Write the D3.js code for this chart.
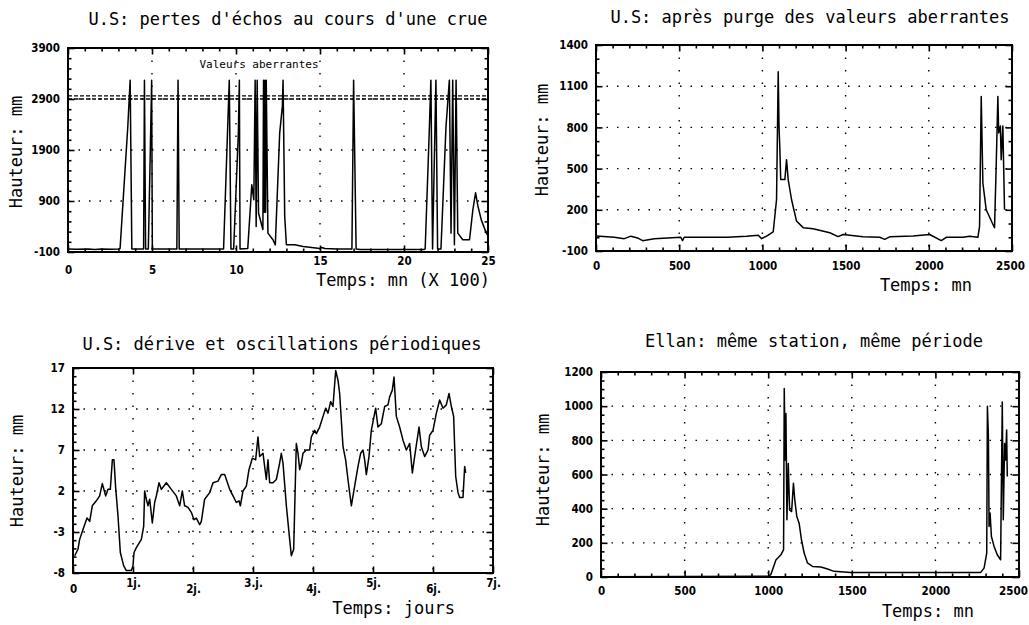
<!DOCTYPE html>
<html>
<head>
<meta charset="utf-8">
<script src="https://cdn.jsdelivr.net/npm/d3@7"></script>
<style>
  body { margin: 0; background: #fff; }
  svg { display: block; }
  .tick text { font-family: "DejaVu Sans Condensed", "DejaVu Sans", sans-serif; font-weight: bold; font-size: 11.5px; fill: #000; }
  .tick line { stroke: #000; stroke-width: 1.6; }
  .title, .alabel { font-family: "DejaVu Sans Mono", monospace; font-size: 17px; fill: #000; }
  .note { font-family: "DejaVu Sans Mono", monospace; font-size: 11px; fill: #000; }
</style>
</head>
<body>
<svg id="fig" width="1029" height="625"></svg>
<script>
// ---- panel 1 : pertes d'échos (temps en centaines de mn, hauteur en mm)
const crueTemps = [0, 0.5, 1.2, 1.6, 2.0, 2.6, 3.0, 3.1, 3.56, 3.7, 3.8, 4.45,
  4.5, 4.55, 4.62, 4.78, 4.9, 4.98, 5.02, 6.45, 6.48, 6.55, 6.62, 9.26,
  9.6, 9.7, 9.86, 10.14, 10.2, 10.24, 10.7, 10.94, 11.06, 11.14, 11.2, 11.26,
  11.34, 11.6, 11.64, 11.68, 11.72, 11.76, 11.8, 11.9, 12.2, 12.34, 12.6, 12.76,
  12.8, 12.9, 13.0, 13.5, 14.0, 14.5, 15.0, 15.1, 15.3, 16.0, 16.9, 17.0,
  17.15, 17.4, 21.2, 21.26, 21.5, 21.6, 21.7, 21.9, 22.0, 22.2, 22.5, 22.7,
  22.8, 22.9, 23.0, 23.1, 23.2, 23.5, 23.9, 24.1, 24.26, 24.4, 24.6, 24.9, 25.0]
const crueHauteur = [-40, -45, -40, -50, -40, -45, -40, -30, 2360, 3270, -40, -40,
  -40, 3270, -40, -40, 1900, 3270, -40, -40, -40, 3270, -40, -40,
  3270, -40, -40, 2230, 3270, -40, -30, 1220, 925, 3270, 400, 3270,
  665, 340, 3270, 680, 3270, 680, 3270, 270, 140, 40, 2230, 2760,
  3270, 600, 40, 40, 10, -10, -30, -10, -30, -40, -40, 3270,
  -40, -50, -50, -40, 2230, 3270, -40, 3270, -40, -40, 2360, 3270,
  270, 3270, 40, 3270, 270, 140, 140, 730, 1060, 800, 530, 270, 220]
const crueSeuils = [2960, 2900]
const crueXTicks = [0, 5, 10, 15, 20, 25]
const crueYTicks = [-100, 900, 1900, 2900, 3900]

// ---- panel 2 : après purge (mn, mm)
const purgeTemps = [0, 110, 170, 210, 250, 280, 350, 510, 520, 530, 630, 790,
  905, 975, 995, 1025, 1065, 1085, 1095, 1100, 1105, 1110, 1125, 1135,
  1145, 1155, 1175, 1205, 1245, 1305, 1405, 1455, 1485, 1605, 1705, 1735,
  1765, 1905, 2005, 2075, 2105, 2205, 2245, 2295, 2305, 2315, 2325, 2345,
  2385, 2395, 2405, 2415, 2420, 2430, 2435, 2445, 2455]
const purgeHauteur = [10, 0, -10, 8, -5, -25, -10, 0, -25, 0, 0, 0,
  8, 15, -10, 8, 40, 275, 1205, 800, 640, 420, 420, 420,
  565, 420, 275, 118, 70, 62, 33, 5, 20, 3, 0, -15,
  3, 10, 20, -25, 0, 0, 8, 0, 80, 1025, 395, 200,
  95, 70, 520, 1025, 760, 810, 565, 810, 200]
const purgeXTicks = [0, 500, 1000, 1500, 2000, 2500]
const purgeYTicks = [-100, 200, 500, 800, 1100, 1400]

// ---- panel 3 : dérive (jours, mm)
const deriveJours = [0.028, 0.083, 0.111, 0.167, 0.233, 0.278, 0.322, 0.389, 0.444, 0.489,
  0.544, 0.583, 0.622, 0.656, 0.683, 0.711, 0.75, 0.789, 0.844, 0.889, 0.972, 1.0,
  1.017, 1.056, 1.139, 1.178, 1.194, 1.222, 1.25, 1.278, 1.322, 1.361, 1.389, 1.433,
  1.472, 1.556, 1.639, 1.722, 1.778, 1.822, 1.861, 1.917, 1.972, 2.017, 2.056, 2.111,
  2.139, 2.194, 2.278, 2.333, 2.417, 2.472, 2.528, 2.556, 2.611, 2.667, 2.722, 2.767,
  2.789, 2.833, 2.889, 2.933, 2.989, 3.044, 3.083, 3.111, 3.167, 3.194, 3.222, 3.25,
  3.278, 3.333, 3.389, 3.444, 3.472, 3.5, 3.556, 3.611, 3.639, 3.678, 3.722, 3.75,
  3.778, 3.806, 3.833, 3.889, 3.944, 3.972, 4.028, 4.056, 4.111, 4.167, 4.211, 4.25,
  4.294, 4.333, 4.378, 4.417, 4.444, 4.5, 4.544, 4.583, 4.639, 4.694, 4.75, 4.794,
  4.833, 4.861, 4.889, 4.933, 4.972, 5.044, 5.083, 5.139, 5.194, 5.25, 5.278, 5.322,
  5.35, 5.389, 5.444, 5.5, 5.556, 5.611, 5.656, 5.694, 5.767, 5.806, 5.861, 5.917,
  5.944, 6.0, 6.056, 6.111, 6.167, 6.222, 6.267, 6.306, 6.344, 6.378, 6.417, 6.444,
  6.5, 6.528, 6.544]
const deriveHauteur = [-5.9, -5.1, -3.9, -2.7, -1.3, -1.7, 0.2, 0.8, 1.4, 2.9,
  1.4, 2.2, 2.2, 5.8, 5.8, 2.4, -1.05, -5.5, -7.1, -7.7, -7.7, -7.1,
  -5.5, -4.9, -3.9, -2.3, 2.0, 1.0, 0.2, 1.0, -1.9, 0.6, 1.4, 3.0,
  2.2, 3.0, 2.2, 1.4, 0.2, 2.0, 0.2, 0.0, -0.6, -1.5, -1.3, -2.1,
  -1.7, 1.0, 1.8, 3.0, 3.2, 4.0, 4.0, 3.4, 2.2, 1.4, 0.6, 0.8,
  0.2, 2.0, 2.6, 4.6, 6.0, 5.8, 8.6, 6.2, 6.6, 5.0, 3.4, 5.8,
  3.0, 3.0, 3.4, 5.4, 6.6, 5.4, 0.2, -3.9, -5.9, -5.1, 7.8, 6.6,
  4.6, 5.4, 6.6, 7.0, 7.0, 8.6, 9.4, 9.0, 9.8, 11.1, 12.1, 11.5,
  12.9, 12.3, 16.7, 15.5, 13.9, 7.4, 5.8, 3.4, 0.2, 2.6, 5.0, 6.6,
  7.0, 5.8, 4.0, 6.2, 9.4, 12.1, 9.8, 10.2, 12.3, 12.5, 13.5, 14.3,
  15.9, 11.1, 9.8, 8.2, 7.0, 7.8, 4.2, 6.2, 9.8, 7.4, 6.2, 7.0,
  8.8, 9.4, 11.5, 13.1, 12.1, 12.5, 13.9, 12.3, 11.1, 3.8, 1.8, 1.2,
  1.2, 5.0, 4.2]
const deriveXTicks = [0, 1, 2, 3, 4, 5, 6, 7]
const deriveXLabels = ["0", "1j.", "2j.", "3.j.", "4j.", "5j.", "6j.", "7j."]
const deriveYTicks = [-8, -3, 2, 7, 12, 17]

// ---- panel 4 : Ellan (mn, mm)
const ellanTemps = [0, 500, 1000, 1016, 1046, 1076, 1092, 1096, 1102, 1106, 1112, 1120,
  1128, 1140, 1151, 1159, 1171, 1185, 1199, 1215, 1235, 1265, 1315, 1355,
  1394, 1454, 1494, 1673, 2000, 2271, 2291, 2307, 2311, 2317, 2321, 2327,
  2335, 2351, 2370, 2390, 2400, 2406, 2414, 2420, 2426, 2430]
const ellanHauteur = [2, 3, 4, 14, 100, 130, 160, 1103, 685, 957, 335, 665,
  393, 383, 549, 451, 354, 315, 218, 140, 82, 62, 58, 47,
  33, 29, 27, 27, 27, 27, 52, 140, 1000, 821, 296, 374,
  237, 179, 130, 101, 1025, 335, 782, 685, 860, 588]
const ellanXTicks = [0, 500, 1000, 1500, 2000, 2500]
const ellanYTicks = [0, 200, 400, 600, 800, 1000, 1200]

const svg = d3.select('#fig')

function drawPanel(o) {
	const g = svg.append('g')
	const x = d3.scaleLinear().domain(o.xDomain).range([o.left, o.right])
	const y = d3.scaleLinear().domain(o.yDomain).range([o.bottom, o.top])

	// sparse dotted grid at major ticks
	const inner = (v, d) => v > d[0] && v < d[1]
	g.selectAll('.hgrid').data(o.yTicks.filter(v => inner(v, o.yDomain))).join('line')
		.attr('x1', o.left).attr('x2', o.right)
		.attr('y1', d => y(d)).attr('y2', d => y(d))
		.attr('stroke', '#000').attr('stroke-width', 1.4).attr('stroke-dasharray', '1.5,9')
	g.selectAll('.vgrid').data(o.xTicks.filter(v => inner(v, o.xDomain))).join('line')
		.attr('y1', o.top).attr('y2', o.bottom)
		.attr('x1', d => x(d)).attr('x2', d => x(d))
		.attr('stroke', '#000').attr('stroke-width', 1.4).attr('stroke-dasharray', '1.5,11')

	// ticks, pointing inwards
	const sides = [
		[d3.axisBottom, x, `translate(0,${o.bottom})`, 'x', true],
		[d3.axisTop, x, `translate(0,${o.top})`, 'x', false],
		[d3.axisLeft, y, `translate(${o.left},0)`, 'y', true],
		[d3.axisRight, y, `translate(${o.right},0)`, 'y', false]
	]
	for (const [mk, sc, tr, dim, labelled] of sides) {
		const major = dim === 'x' ? o.xTicks : o.yTicks
		const minor = dim === 'x' ? o.xMinor : o.yMinor
		const labels = dim === 'x' ? o.xLabels : o.yLabels
		if (minor.length) {
			g.append('g').attr('transform', tr)
				.call(mk(sc).tickValues(minor).tickSize(-3.5).tickFormat(''))
				.call(s => s.select('.domain').remove())
		}
		const a = g.append('g').attr('transform', tr)
			.call(mk(sc).tickValues(major).tickSize(-6.5)
				.tickPadding(dim === 'x' ? o.xPad : 8)
				.tickFormat(labelled ? (d, i) => labels[i] : ''))
			.call(s => s.select('.domain').remove())
		if (labelled && dim === 'x' && o.shift) {
			// the scanned labels do not sit on one line
			a.selectAll('text')
				.attr('dy', (d, i) => o.shift(i)[1] + 8.2)
				.attr('dx', (d, i) => o.shift(i)[0])
		}
	}

	// data line
	const clipId = 'clip' + o.id
	g.append('clipPath').attr('id', clipId).append('rect')
		.attr('x', o.left).attr('y', o.top - 1)
		.attr('width', o.right - o.left).attr('height', o.bottom - o.top + 2)
	const pts = o.xs.map((v, i) => [v, o.ys[i]])
	g.append('path').datum(pts)
		.attr('clip-path', `url(#${clipId})`)
		.attr('fill', 'none').attr('stroke', '#000').attr('stroke-width', 1.5)
		.attr('stroke-linejoin', 'round')
		.attr('d', d3.line().x(d => x(d[0])).y(d => y(d[1])))

	if (o.seuils) {
		g.selectAll('.seuil').data(o.seuils).join('line')
			.attr('x1', o.left).attr('x2', o.right)
			.attr('y1', d => y(d)).attr('y2', d => y(d))
			.attr('stroke', '#000').attr('stroke-width', 1.3).attr('stroke-dasharray', '4,2')
	}

	// frame
	g.append('rect').attr('x', o.left).attr('y', o.top)
		.attr('width', o.right - o.left).attr('height', o.bottom - o.top)
		.attr('fill', 'none').attr('stroke', '#000').attr('stroke-width', 2)

	g.append('text').attr('class', 'title').attr('text-anchor', 'middle')
		.attr('x', o.titleX).attr('y', o.titleY).text(o.title)
	g.append('text').attr('class', 'alabel').attr('text-anchor', 'end')
		.attr('x', o.xLabelX).attr('y', o.xLabelY).text(o.xLabel)
	g.append('text').attr('class', 'alabel').attr('text-anchor', 'middle')
		.attr('transform', `translate(${o.yLabelX},${o.yLabelY}) rotate(-90)`)
		.text('Hauteur: mm')
	return { g, x, y }
}

const p1 = drawPanel({
	id: 1, left: 68, right: 488, top: 48, bottom: 252,
	xDomain: [0, 25], yDomain: [-100, 3900],
	xTicks: crueXTicks, xLabels: crueXTicks.map(String), xMinor: d3.range(0, 26).filter(v => v % 5),
	yTicks: crueYTicks, yLabels: crueYTicks.map(String), yMinor: d3.range(-100, 3901, 200).filter(v => (v + 100) % 1000),
	xPad: 14, shift: i => [0, i >= 3 ? -9 : 0],
	xs: crueTemps, ys: crueHauteur, seuils: crueSeuils,
	title: "U.S: pertes d'échos au cours d'une crue", titleX: 288, titleY: 25,
	xLabel: 'Temps: mn (X 100)', xLabelX: 490, xLabelY: 286, yLabelX: 22, yLabelY: 152
})
p1.g.append('text').attr('class', 'note').attr('text-anchor', 'middle')
	.attr('x', 259).attr('y', 68).text('Valeurs aberrantes')

drawPanel({
	id: 2, left: 596, right: 1012, top: 45, bottom: 251,
	xDomain: [0, 2500], yDomain: [-100, 1400],
	xTicks: purgeXTicks, xLabels: purgeXTicks.map(String), xMinor: d3.range(0, 2501, 100).filter(v => v % 500),
	yTicks: purgeYTicks, yLabels: purgeYTicks.map(String), yMinor: d3.range(-100, 1401, 100).filter(v => (v + 100) % 300),
	xPad: 11, shift: i => [i === 5 ? -2 : 0, 0],
	xs: purgeTemps, ys: purgeHauteur,
	title: 'U.S: après purge des valeurs aberrantes', titleX: 810, titleY: 23,
	xLabel: 'Temps: mn', xLabelX: 972, xLabelY: 291, yLabelX: 548, yLabelY: 140
})

drawPanel({
	id: 3, left: 73, right: 493, top: 368, bottom: 573,
	xDomain: [0, 7], yDomain: [-8, 17],
	xTicks: deriveXTicks, xLabels: deriveXLabels, xMinor: [],
	yTicks: deriveYTicks, yLabels: deriveYTicks.map(String), yMinor: d3.range(-8, 18).filter(v => (v + 8) % 5),
	xPad: 6, shift: i => [0, i % 2 ? 0 : 6],
	xs: deriveJours, ys: deriveHauteur,
	title: 'U.S: dérive et oscillations périodiques', titleX: 282, titleY: 350,
	xLabel: 'Temps: jours', xLabelX: 455, xLabelY: 614, yLabelX: 23, yLabelY: 471
})

drawPanel({
	id: 4, left: 601, right: 1019, top: 372, bottom: 577,
	xDomain: [0, 2500], yDomain: [0, 1200],
	xTicks: ellanXTicks, xLabels: ellanXTicks.map(String), xMinor: d3.range(0, 2501, 100).filter(v => v % 500),
	yTicks: ellanYTicks, yLabels: ellanYTicks.map(String), yMinor: d3.range(0, 1201, 50).filter(v => v % 200),
	xPad: 10, shift: i => [i === 5 ? -6 : 0, 0],
	xs: ellanTemps, ys: ellanHauteur,
	title: 'Ellan: même station, même période', titleX: 814, titleY: 347,
	xLabel: 'Temps: mn', xLabelX: 974, xLabelY: 617, yLabelX: 549, yLabelY: 470
})
</script>
</body>
</html>
